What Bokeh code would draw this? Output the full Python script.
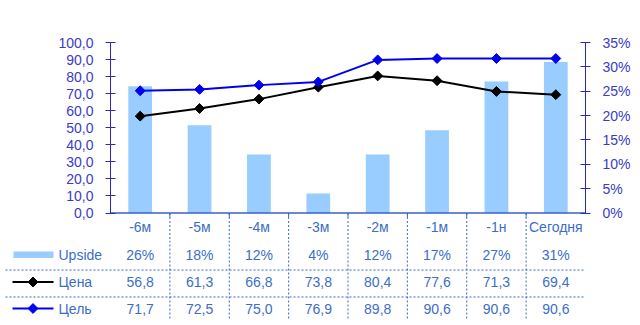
from bokeh.plotting import figure
from bokeh.models import Range1d, LinearAxis, FixedTicker, CustomJSTickFormatter
from bokeh.layouts import column
from bokeh.embed import file_html
from bokeh.resources import INLINE
from bokeh.core.properties import value
import numpy as np

# ---- data ----
categories = ["-6м", "-5м", "-4м", "-3м", "-2м", "-1м", "-1н", "Сегодня"]
upside = [0.26, 0.18, 0.12, 0.04, 0.12, 0.17, 0.27, 0.31]
price = [56.8, 61.3, 66.8, 73.8, 80.4, 77.6, 71.3, 69.4]
target = [71.7, 72.5, 75.0, 76.9, 89.8, 90.6, 90.6, 90.6]
left_ticks = [0, 10, 20, 30, 40, 50, 60, 70, 80, 90, 100]
right_ticks = [0, 0.05, 0.10, 0.15, 0.20, 0.25, 0.30, 0.35]
series_names = ["Upside", "Цена", "Цель"]

# ---- styles ----
FONT = "Liberation Sans"
BAR_C = "#99CCFF"
PRICE_C = "#000000"
TARGET_C = "#0000F0"
AXIS_C = "#2A2AC0"
AXLBL_C = "#3B3BC8"
TABLE_C = "#3C6EC8"
DASH_C = "#3366CC"
BASE_C = "#3A5FCC"

W = 640
LEFT, RIGHT = 110, 55
TOP = 42            # frame top (value 100)
ZERO = 212.5        # pixel row of value 0
TOP_H = 240         # height of chart figure
BOT_H = 325 - TOP_H
n = len(categories)
xs = list(range(n))
cat_px = (W - LEFT - RIGHT) / n
ppu = (ZERO - TOP) / 100.0          # pixels per left-axis unit
y_start = -(TOP_H - ZERO) / ppu
pct_max = 0.35
pct_scale = pct_max / 100.0

# ---- main chart ----
p1 = figure(width=W, height=TOP_H, x_range=Range1d(-0.5, n - 0.5), y_range=Range1d(y_start, 100),
            x_axis_location=None, y_axis_location="left",
            min_border_left=LEFT, min_border_right=RIGHT, min_border_top=TOP, min_border_bottom=0,
            output_backend="svg", toolbar_location=None, outline_line_color=None)
p1.frame_align = False
p1.xgrid.visible = False
p1.ygrid.visible = False
p1.background_fill_color = None

p1.extra_y_ranges = {"pct": Range1d(y_start * pct_scale, pct_max)}

ya = p1.yaxis[0]
ya.bounds = (0, 100)
ya.ticker = FixedTicker(ticks=left_ticks)
ya.formatter = CustomJSTickFormatter(code="return tick.toFixed(1).replace('.', ',');")
ya.axis_line_color = AXIS_C
ya.major_tick_line_color = AXIS_C
ya.minor_tick_line_color = None
ya.major_tick_in = 5
ya.major_tick_out = 5
ya.major_label_standoff = 12
ya.major_label_text_color = AXLBL_C
ya.major_label_text_font = FONT
ya.major_label_text_font_size = "14px"

ra = LinearAxis(y_range_name="pct", ticker=FixedTicker(ticks=right_ticks), bounds=(0, pct_max),
                formatter=CustomJSTickFormatter(code="return Math.round(tick*100) + '%';"))
ra.axis_line_color = AXIS_C
ra.major_tick_line_color = AXIS_C
ra.minor_tick_line_color = None
ra.major_tick_in = 5
ra.major_tick_out = 5
ra.major_label_standoff = 12
ra.major_label_text_color = AXLBL_C
ra.major_label_text_font = FONT
ra.major_label_text_font_size = "14px"
p1.add_layout(ra, "right")

p1.vbar(x=xs, top=upside, width=0.4, y_range_name="pct", fill_color=BAR_C, line_color=None)
p1.line(xs, price, line_color=PRICE_C, line_width=2)
p1.scatter(xs, price, marker="square", angle=np.pi / 4, size=7, fill_color=PRICE_C, line_color=PRICE_C)
p1.line(xs, target, line_color=TARGET_C, line_width=2)
p1.scatter(xs, target, marker="square", angle=np.pi / 4, size=7, fill_color=TARGET_C, line_color=TARGET_C)

# category axis line
p1.line([-0.5, n - 0.5], [0, 0], line_color=BASE_C, line_width=1.5)
# category separators (tick + dashed)
bounds = [i + 0.5 for i in range(n - 1)]
nb = len(bounds)
p1.segment(x0=bounds, y0=[0] * nb, x1=bounds, y1=[-4 / ppu] * nb, line_color=DASH_C, line_width=1)
p1.segment(x0=bounds, y0=[0] * nb, x1=bounds, y1=[y_start] * nb, line_color=DASH_C,
           line_width=1, line_dash="2 2")
# category labels
cat_y = -(226.5 - ZERO) / ppu
p1.text(x=xs, y=[cat_y] * n, text=categories, text_align="center", text_baseline="middle",
        text_font=value(FONT), text_font_size="14px", text_color=TABLE_C)

# ---- data table below ----
def px2x(px):
    return -0.5 + (px - LEFT) / cat_px

p2 = figure(width=W, height=BOT_H, x_range=Range1d(px2x(0), px2x(W)), y_range=Range1d(BOT_H, 0),
            x_axis_type=None, y_axis_type=None, min_border=0,
            min_border_left=0, min_border_right=0, min_border_top=0, min_border_bottom=0,
            output_backend="svg", toolbar_location=None, outline_line_color=None)
p2.frame_align = False
p2.xgrid.visible = False
p2.ygrid.visible = False
p2.background_fill_color = None

def ry(abs_px):
    return abs_px - TOP_H

p2.segment(x0=bounds, y0=[0] * nb, x1=bounds, y1=[ry(320)] * nb,
           line_color=DASH_C, line_width=1, line_dash="2 2")
hy = [ry(269.5), ry(296.5)]
p2.segment(x0=[px2x(5)] * 2, y0=hy, x1=[n - 0.5] * 2, y1=hy,
           line_color=DASH_C, line_width=1, line_dash="2 2")

row_y = [ry(254), ry(281.5), ry(308)]
upside_txt = [f"{round(u * 100)}%" for u in upside]
price_txt = [f"{v:.1f}".replace(".", ",") for v in price]
target_txt = [f"{v:.1f}".replace(".", ",") for v in target]

for y, labels in zip(row_y, [upside_txt, price_txt, target_txt]):
    p2.text(x=xs, y=[y] * n, text=labels, text_align="center", text_baseline="middle",
            text_font=value(FONT), text_font_size="14px", text_color=TABLE_C)

# legend keys
p2.quad(left=[px2x(13)], right=[px2x(53)], top=[ry(251)], bottom=[ry(257.5)], fill_color=BAR_C, line_color=None)
p2.segment(x0=[px2x(12)], y0=[row_y[1]], x1=[px2x(53)], y1=[row_y[1]], line_color=PRICE_C, line_width=2)
p2.scatter([px2x(32.5)], [row_y[1]], marker="square", angle=np.pi / 4, size=7, fill_color=PRICE_C, line_color=PRICE_C)
p2.segment(x0=[px2x(12)], y0=[row_y[2]], x1=[px2x(53)], y1=[row_y[2]], line_color=TARGET_C, line_width=2)
p2.scatter([px2x(32.5)], [row_y[2]], marker="square", angle=np.pi / 4, size=7, fill_color=TARGET_C, line_color=TARGET_C)
p2.text(x=[px2x(58)] * 3, y=row_y, text=series_names, text_align="left", text_baseline="middle",
        text_font=value(FONT), text_font_size="14px", text_color=TABLE_C)

layout = column(p1, p2, spacing=0)
open("out.html", "w").write(file_html(layout, INLINE))
